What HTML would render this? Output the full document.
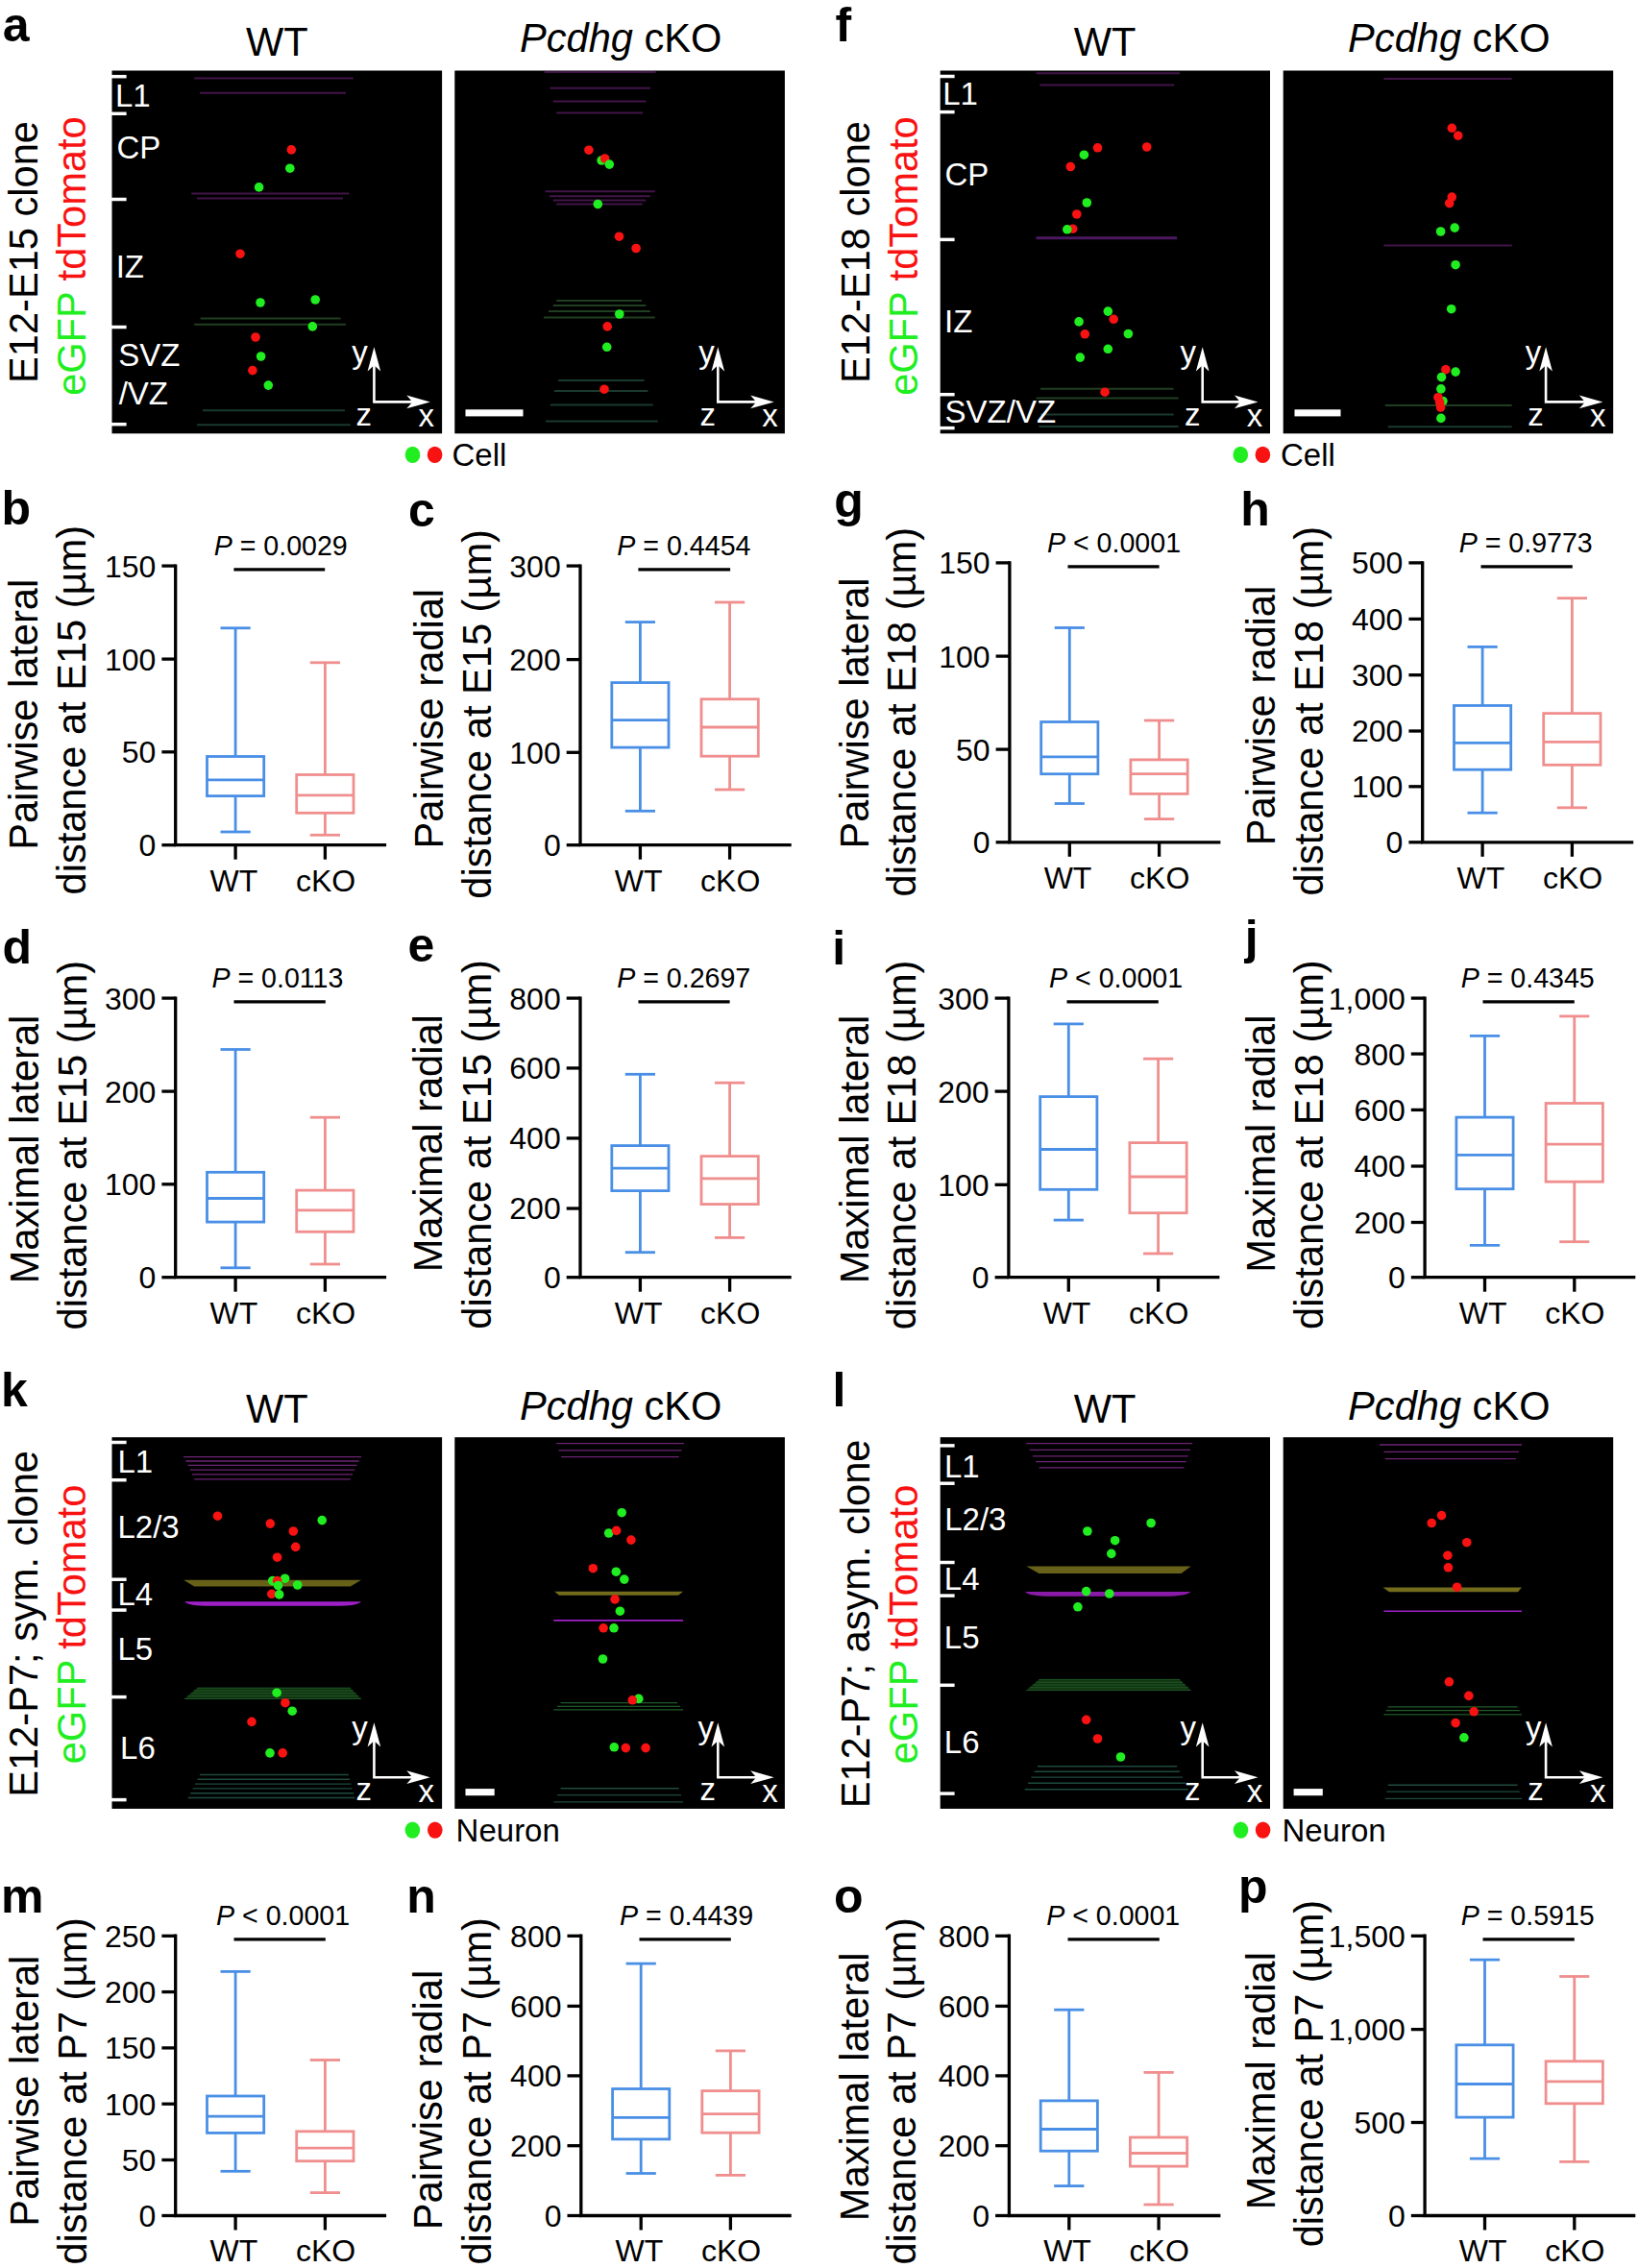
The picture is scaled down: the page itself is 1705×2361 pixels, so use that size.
<!DOCTYPE html>
<html><head><meta charset="utf-8"><title>Figure</title>
<style>
html,body{margin:0;padding:0;background:#fff}
svg{display:block}
text{font-family:"Liberation Sans",Arial,sans-serif}
</style></head><body>
<svg xmlns="http://www.w3.org/2000/svg" width="1705" height="2361" viewBox="0 0 1705 2361">
<rect width="1705" height="2361" fill="#fff"/>
<rect x="116.5" y="73.5" width="343.6" height="377.8" fill="#000"/>
<rect x="473.3" y="73.5" width="343.6" height="377.8" fill="#000"/>
<rect x="978.7" y="73.5" width="343.3" height="377.8" fill="#000"/>
<rect x="1335.7" y="73.5" width="343.5" height="377.8" fill="#000"/>
<text x="2.8" y="42.6" font-size="50" text-anchor="start" fill="#000" font-weight="bold">a</text>
<text x="869.5" y="43.4" font-size="50" text-anchor="start" fill="#000" font-weight="bold">f</text>
<text x="288.4" y="57.7" font-size="41.6" text-anchor="middle" fill="#000" >WT</text>
<text x="646.2" y="54.2" font-size="41.6" text-anchor="middle" fill="#000" ><tspan font-style="italic">Pcdhg</tspan> cKO</text>
<text x="1150.2" y="57.7" font-size="41.6" text-anchor="middle" fill="#000" >WT</text>
<text x="1508.3" y="54.2" font-size="41.6" text-anchor="middle" fill="#000" ><tspan font-style="italic">Pcdhg</tspan> cKO</text>
<text transform="translate(39.0,262.5) rotate(-90)" font-size="41.6" text-anchor="middle" fill="#000">E12-E15 clone</text>
<text transform="translate(89.2,266.6) rotate(-90)" font-size="41.6" text-anchor="middle" fill="#000"><tspan fill="#20ee20">eGFP</tspan> <tspan fill="#f81212">tdTomato</tspan></text>
<text transform="translate(905.1,262.5) rotate(-90)" font-size="41.6" text-anchor="middle" fill="#000">E12-E18 clone</text>
<text transform="translate(955.2,266.6) rotate(-90)" font-size="41.6" text-anchor="middle" fill="#000"><tspan fill="#20ee20">eGFP</tspan> <tspan fill="#f81212">tdTomato</tspan></text>
<line x1="202.2" y1="81.5" x2="367.8" y2="81.5" stroke="#421548" stroke-width="2" />
<line x1="208.0" y1="96.7" x2="360.0" y2="96.7" stroke="#421548" stroke-width="2" />
<line x1="199.3" y1="201.6" x2="363.4" y2="201.6" stroke="#421548" stroke-width="2" />
<line x1="205.0" y1="206.6" x2="357.0" y2="206.6" stroke="#421548" stroke-width="2" />
<line x1="208.6" y1="331.4" x2="354.6" y2="331.4" stroke="#203e20" stroke-width="2" />
<line x1="202.2" y1="337.8" x2="359.9" y2="337.8" stroke="#203e20" stroke-width="2" />
<line x1="211.0" y1="427.2" x2="359.0" y2="427.2" stroke="#1a392f" stroke-width="2" />
<line x1="205.1" y1="442.2" x2="364.8" y2="442.2" stroke="#1a392f" stroke-width="2" />
<line x1="116.0" y1="79.7" x2="131.6" y2="79.7" stroke="#fff" stroke-width="3.5" />
<line x1="116.0" y1="118.3" x2="131.6" y2="118.3" stroke="#fff" stroke-width="3.5" />
<line x1="116.0" y1="207.5" x2="131.6" y2="207.5" stroke="#fff" stroke-width="3.5" />
<line x1="116.0" y1="340.5" x2="131.6" y2="340.5" stroke="#fff" stroke-width="3.5" />
<line x1="116.0" y1="441.7" x2="131.6" y2="441.7" stroke="#fff" stroke-width="3.5" />
<text x="119.9" y="111.3" font-size="33" text-anchor="start" fill="#fff" >L1</text>
<text x="121.4" y="164.9" font-size="33" text-anchor="start" fill="#fff" >CP</text>
<text x="120.7" y="289.0" font-size="33" text-anchor="start" fill="#fff" >IZ</text>
<text x="123.3" y="381.2" font-size="33" text-anchor="start" fill="#fff" >SVZ</text>
<text x="123.7" y="420.9" font-size="33" text-anchor="start" fill="#fff" >/VZ</text>
<circle cx="303.3" cy="155.9" r="4.8" fill="#f81212"/>
<circle cx="301.8" cy="175.2" r="4.8" fill="#20ee20"/>
<circle cx="269.6" cy="194.9" r="4.8" fill="#20ee20"/>
<circle cx="250.0" cy="264.2" r="4.8" fill="#f81212"/>
<circle cx="271.0" cy="315.0" r="4.8" fill="#20ee20"/>
<circle cx="328.2" cy="312.0" r="4.8" fill="#20ee20"/>
<circle cx="325.3" cy="339.9" r="4.8" fill="#20ee20"/>
<circle cx="266.0" cy="351.0" r="4.8" fill="#f81212"/>
<circle cx="271.6" cy="371.0" r="4.8" fill="#20ee20"/>
<circle cx="262.9" cy="385.6" r="4.8" fill="#f81212"/>
<circle cx="279.3" cy="401.1" r="4.8" fill="#20ee20"/>
<path d="M389.4,377.2 L389.4,418.4 L431.8,418.4" fill="none" stroke="#fff" stroke-width="2.6" stroke-linejoin="miter"/>
<polygon points="389.4,361.2 382.6,386.5 389.4,380.2 396.2,386.5" fill="#fff" opacity="1"/>
<polygon points="447.8,418.4 423.3,411.5 429.3,418.4 423.3,425.3" fill="#fff" opacity="1"/>
<text x="366.3" y="378.0" font-size="33" text-anchor="start" fill="#fff" >y</text>
<text x="370.6" y="442.5" font-size="33" text-anchor="start" fill="#fff" >z</text>
<text x="435.4" y="444.0" font-size="33" text-anchor="start" fill="#fff" >x</text>
<line x1="566.6" y1="75.0" x2="682.6" y2="75.0" stroke="#421548" stroke-width="2" />
<line x1="572.5" y1="91.7" x2="676.8" y2="91.7" stroke="#421548" stroke-width="2" />
<line x1="575.7" y1="105.5" x2="672.4" y2="105.5" stroke="#421548" stroke-width="2" />
<line x1="579.2" y1="117.5" x2="669.2" y2="117.5" stroke="#421548" stroke-width="2" />
<line x1="567.5" y1="199.3" x2="681.8" y2="199.3" stroke="#421548" stroke-width="2" />
<line x1="571.9" y1="204.2" x2="676.8" y2="204.2" stroke="#421548" stroke-width="2" />
<line x1="575.7" y1="208.6" x2="672.4" y2="208.6" stroke="#421548" stroke-width="2" />
<line x1="579.2" y1="212.5" x2="668.6" y2="212.5" stroke="#421548" stroke-width="2" />
<line x1="579.2" y1="312.9" x2="668.0" y2="312.9" stroke="#203e20" stroke-width="2" />
<line x1="575.7" y1="317.9" x2="672.4" y2="317.9" stroke="#203e20" stroke-width="2" />
<line x1="571.0" y1="324.1" x2="676.8" y2="324.1" stroke="#203e20" stroke-width="2" />
<line x1="566.0" y1="330.5" x2="681.8" y2="330.5" stroke="#203e20" stroke-width="2" />
<line x1="581.2" y1="395.9" x2="670.6" y2="395.9" stroke="#1a392f" stroke-width="2" />
<line x1="576.9" y1="407.0" x2="674.4" y2="407.0" stroke="#1a392f" stroke-width="2" />
<line x1="572.8" y1="421.4" x2="679.7" y2="421.4" stroke="#1a392f" stroke-width="2" />
<line x1="568.1" y1="438.4" x2="684.7" y2="438.4" stroke="#1a392f" stroke-width="2" />
<circle cx="612.9" cy="156.2" r="4.8" fill="#f81212"/>
<circle cx="626.1" cy="167.0" r="4.8" fill="#20ee20"/>
<circle cx="629.6" cy="165.0" r="4.8" fill="#f81212"/>
<circle cx="634.3" cy="171.1" r="4.8" fill="#20ee20"/>
<circle cx="622.3" cy="212.5" r="4.8" fill="#20ee20"/>
<circle cx="644.5" cy="246.2" r="4.8" fill="#f81212"/>
<circle cx="662.1" cy="258.5" r="4.8" fill="#f81212"/>
<circle cx="644.8" cy="327.0" r="4.8" fill="#20ee20"/>
<circle cx="632.2" cy="339.9" r="4.8" fill="#f81212"/>
<circle cx="631.7" cy="361.3" r="4.8" fill="#20ee20"/>
<circle cx="629.0" cy="405.2" r="4.8" fill="#f81212"/>
<rect x="484.5" y="426.3" width="60.0" height="7.1" fill="#fff"/>
<path d="M747.3,377.2 L747.3,418.4 L789.7,418.4" fill="none" stroke="#fff" stroke-width="2.6" stroke-linejoin="miter"/>
<polygon points="747.3,361.2 740.5,386.5 747.3,380.2 754.1,386.5" fill="#fff" opacity="1"/>
<polygon points="805.7,418.4 781.2,411.5 787.2,418.4 781.2,425.3" fill="#fff" opacity="1"/>
<text x="727.2" y="378.0" font-size="33" text-anchor="start" fill="#fff" >y</text>
<text x="728.5" y="442.5" font-size="33" text-anchor="start" fill="#fff" >z</text>
<text x="793.3" y="444.0" font-size="33" text-anchor="start" fill="#fff" >x</text>
<ellipse cx="429.5" cy="473.4" rx="7.8" ry="8.7" fill="#20ee20"/>
<ellipse cx="452.6" cy="473.4" rx="7.8" ry="8.7" fill="#f81212"/>
<text x="470.5" y="485.0" font-size="33" text-anchor="start" fill="#000" >Cell</text>
<line x1="1078.6" y1="76.2" x2="1228.0" y2="76.2" stroke="#421548" stroke-width="2" />
<line x1="1082.4" y1="88.5" x2="1222.2" y2="88.5" stroke="#421548" stroke-width="2" />
<line x1="1078.6" y1="247.8" x2="1225.1" y2="247.8" stroke="#4c1862" stroke-width="3" />
<line x1="1083.0" y1="404.7" x2="1221.6" y2="404.7" stroke="#203e20" stroke-width="2" />
<line x1="1078.6" y1="414.6" x2="1226.6" y2="414.6" stroke="#203e20" stroke-width="2" />
<line x1="1083.0" y1="431.6" x2="1221.6" y2="431.6" stroke="#1a392f" stroke-width="2" />
<line x1="1081.5" y1="443.9" x2="1226.6" y2="443.9" stroke="#1a392f" stroke-width="2" />
<line x1="978.0" y1="79.5" x2="993.6" y2="79.5" stroke="#fff" stroke-width="3.5" />
<line x1="978.0" y1="116.6" x2="993.6" y2="116.6" stroke="#fff" stroke-width="3.5" />
<line x1="978.0" y1="249.4" x2="993.6" y2="249.4" stroke="#fff" stroke-width="3.5" />
<line x1="978.0" y1="410.7" x2="993.6" y2="410.7" stroke="#fff" stroke-width="3.5" />
<line x1="978.0" y1="445.6" x2="993.6" y2="445.6" stroke="#fff" stroke-width="3.5" />
<text x="981.2" y="109.0" font-size="33" text-anchor="start" fill="#fff" >L1</text>
<text x="983.5" y="193.4" font-size="33" text-anchor="start" fill="#fff" >CP</text>
<text x="983.0" y="345.8" font-size="33" text-anchor="start" fill="#fff" >IZ</text>
<text x="983.6" y="439.5" font-size="33" text-anchor="start" fill="#fff" >SVZ/VZ</text>
<circle cx="1142.5" cy="153.8" r="4.8" fill="#f81212"/>
<circle cx="1193.7" cy="153.0" r="4.8" fill="#f81212"/>
<circle cx="1128.4" cy="161.2" r="4.8" fill="#20ee20"/>
<circle cx="1114.3" cy="173.5" r="4.8" fill="#f81212"/>
<circle cx="1131.3" cy="211.0" r="4.8" fill="#20ee20"/>
<circle cx="1120.8" cy="223.0" r="4.8" fill="#f81212"/>
<circle cx="1116.7" cy="238.2" r="4.8" fill="#f81212"/>
<circle cx="1110.8" cy="238.8" r="4.8" fill="#20ee20"/>
<circle cx="1153.3" cy="324.1" r="4.8" fill="#20ee20"/>
<circle cx="1159.2" cy="332.3" r="4.8" fill="#f81212"/>
<circle cx="1123.1" cy="334.9" r="4.8" fill="#20ee20"/>
<circle cx="1129.3" cy="347.8" r="4.8" fill="#f81212"/>
<circle cx="1174.4" cy="347.5" r="4.8" fill="#20ee20"/>
<circle cx="1153.3" cy="363.3" r="4.8" fill="#20ee20"/>
<circle cx="1124.3" cy="372.1" r="4.8" fill="#20ee20"/>
<circle cx="1150.1" cy="408.2" r="4.8" fill="#f81212"/>
<path d="M1251.7,377.2 L1251.7,418.4 L1293.5,418.4" fill="none" stroke="#fff" stroke-width="2.6" stroke-linejoin="miter"/>
<polygon points="1251.7,361.2 1244.9,386.5 1251.7,380.2 1258.5,386.5" fill="#fff" opacity="1"/>
<polygon points="1309.5,418.4 1285.0,411.5 1291.0,418.4 1285.0,425.3" fill="#fff" opacity="1"/>
<text x="1228.6" y="378.0" font-size="33" text-anchor="start" fill="#fff" >y</text>
<text x="1232.9" y="442.5" font-size="33" text-anchor="start" fill="#fff" >z</text>
<text x="1297.7" y="444.0" font-size="33" text-anchor="start" fill="#fff" >x</text>
<line x1="1440.4" y1="82.0" x2="1573.7" y2="82.0" stroke="#421548" stroke-width="2" />
<line x1="1440.4" y1="255.5" x2="1573.7" y2="255.5" stroke="#421548" stroke-width="2" />
<line x1="1441.8" y1="421.9" x2="1573.7" y2="421.9" stroke="#203e20" stroke-width="2" />
<line x1="1444.8" y1="444.2" x2="1573.7" y2="444.2" stroke="#1a392f" stroke-width="2" />
<circle cx="1511.3" cy="133.3" r="4.8" fill="#f81212"/>
<circle cx="1517.7" cy="141.2" r="4.8" fill="#f81212"/>
<circle cx="1511.3" cy="205.1" r="4.8" fill="#f81212"/>
<circle cx="1508.7" cy="211.6" r="4.8" fill="#f81212"/>
<circle cx="1514.2" cy="237.1" r="4.8" fill="#20ee20"/>
<circle cx="1499.6" cy="241.0" r="4.8" fill="#20ee20"/>
<circle cx="1515.1" cy="275.7" r="4.8" fill="#20ee20"/>
<circle cx="1510.7" cy="321.7" r="4.8" fill="#20ee20"/>
<circle cx="1504.9" cy="384.7" r="4.8" fill="#f81212"/>
<circle cx="1515.1" cy="387.1" r="4.8" fill="#20ee20"/>
<circle cx="1500.5" cy="392.6" r="4.8" fill="#20ee20"/>
<circle cx="1499.9" cy="404.9" r="4.8" fill="#20ee20"/>
<circle cx="1501.9" cy="417.5" r="4.8" fill="#20ee20"/>
<circle cx="1496.9" cy="413.7" r="4.8" fill="#f81212"/>
<circle cx="1498.7" cy="419.0" r="4.8" fill="#f81212"/>
<circle cx="1499.6" cy="424.0" r="4.8" fill="#f81212"/>
<circle cx="1499.9" cy="435.4" r="4.8" fill="#20ee20"/>
<rect x="1347.5" y="426.3" width="48.0" height="7.1" fill="#fff"/>
<path d="M1609.1,377.2 L1609.1,418.4 L1652.4,418.4" fill="none" stroke="#fff" stroke-width="2.6" stroke-linejoin="miter"/>
<polygon points="1609.1,361.2 1602.3,386.5 1609.1,380.2 1615.9,386.5" fill="#fff" opacity="1"/>
<polygon points="1668.4,418.4 1643.9,411.5 1649.9,418.4 1643.9,425.3" fill="#fff" opacity="1"/>
<text x="1587.8" y="378.0" font-size="33" text-anchor="start" fill="#fff" >y</text>
<text x="1590.3" y="442.5" font-size="33" text-anchor="start" fill="#fff" >z</text>
<text x="1655.1" y="444.0" font-size="33" text-anchor="start" fill="#fff" >x</text>
<ellipse cx="1291.3" cy="473.4" rx="7.8" ry="8.7" fill="#20ee20"/>
<ellipse cx="1314.4" cy="473.4" rx="7.8" ry="8.7" fill="#f81212"/>
<text x="1333.0" y="485.0" font-size="33" text-anchor="start" fill="#000" >Cell</text>
<rect x="116.5" y="1496.2" width="343.6" height="386.7" fill="#000"/>
<rect x="473.3" y="1496.2" width="343.6" height="386.7" fill="#000"/>
<rect x="978.7" y="1496.2" width="343.3" height="386.7" fill="#000"/>
<rect x="1335.7" y="1496.2" width="343.5" height="386.7" fill="#000"/>
<text x="0.9" y="1463.9" font-size="50" text-anchor="start" fill="#000" font-weight="bold">k</text>
<text x="866.5" y="1463.9" font-size="50" text-anchor="start" fill="#000" font-weight="bold">l</text>
<text x="288.4" y="1481.2" font-size="41.6" text-anchor="middle" fill="#000" >WT</text>
<text x="646.2" y="1477.7" font-size="41.6" text-anchor="middle" fill="#000" ><tspan font-style="italic">Pcdhg</tspan> cKO</text>
<text x="1150.2" y="1481.2" font-size="41.6" text-anchor="middle" fill="#000" >WT</text>
<text x="1508.3" y="1477.7" font-size="41.6" text-anchor="middle" fill="#000" ><tspan font-style="italic">Pcdhg</tspan> cKO</text>
<text transform="translate(39.0,1690.4) rotate(-90)" font-size="41.6" text-anchor="middle" fill="#000">E12-P7; sym. clone</text>
<text transform="translate(89.2,1691.0) rotate(-90)" font-size="41.6" text-anchor="middle" fill="#000"><tspan fill="#20ee20">eGFP</tspan> <tspan fill="#f81212">tdTomato</tspan></text>
<text transform="translate(905.1,1690.4) rotate(-90)" font-size="41.6" text-anchor="middle" fill="#000">E12-P7; asym. clone</text>
<text transform="translate(955.2,1691.0) rotate(-90)" font-size="41.6" text-anchor="middle" fill="#000"><tspan fill="#20ee20">eGFP</tspan> <tspan fill="#f81212">tdTomato</tspan></text>
<line x1="191.1" y1="1516.6" x2="376.0" y2="1516.6" stroke="#6c2474" stroke-width="1.3" />
<line x1="193.3" y1="1521.0" x2="373.8" y2="1521.0" stroke="#6c2474" stroke-width="1.3" />
<line x1="195.5" y1="1525.4" x2="371.5" y2="1525.4" stroke="#6c2474" stroke-width="1.3" />
<line x1="197.8" y1="1530.1" x2="369.3" y2="1530.1" stroke="#6c2474" stroke-width="1.3" />
<line x1="200.0" y1="1534.8" x2="367.0" y2="1534.8" stroke="#6c2474" stroke-width="1.3" />
<line x1="202.2" y1="1539.8" x2="364.8" y2="1539.8" stroke="#6c2474" stroke-width="1.3" />
<polygon points="191.1,1644.7 376.0,1644.7 364.8,1651.4 202.2,1651.4" fill="#726c1c" opacity="0.9"/>
<path d="M192,1667.2 L376,1667.2 Q372,1671.8 350,1671.8 L218,1671.8 Q196,1671.8 192,1667.2 Z" fill="#a020c8"/>
<polygon points="205.1,1757.2 364.8,1757.2 376.0,1768.4 192.0,1768.4" fill="#11320f" opacity="1"/>
<line x1="205.1" y1="1757.2" x2="364.8" y2="1757.2" stroke="#1f5a28" stroke-width="1.0" />
<line x1="201.8" y1="1760.0" x2="367.6" y2="1760.0" stroke="#1f5a28" stroke-width="1.0" />
<line x1="198.6" y1="1762.8" x2="370.4" y2="1762.8" stroke="#1f5a28" stroke-width="1.0" />
<line x1="195.3" y1="1765.6" x2="373.2" y2="1765.6" stroke="#1f5a28" stroke-width="1.0" />
<line x1="192.0" y1="1768.4" x2="376.0" y2="1768.4" stroke="#1f5a28" stroke-width="1.0" />
<line x1="208.0" y1="1847.5" x2="362.8" y2="1847.5" stroke="#1f4a3e" stroke-width="1.4" />
<line x1="205.6" y1="1852.3" x2="364.1" y2="1852.3" stroke="#1f4a3e" stroke-width="1.4" />
<line x1="203.1" y1="1857.1" x2="365.5" y2="1857.1" stroke="#1f4a3e" stroke-width="1.4" />
<line x1="200.7" y1="1861.9" x2="366.8" y2="1861.9" stroke="#1f4a3e" stroke-width="1.4" />
<line x1="198.2" y1="1866.7" x2="368.2" y2="1866.7" stroke="#1f4a3e" stroke-width="1.4" />
<line x1="195.8" y1="1871.5" x2="369.5" y2="1871.5" stroke="#1f4a3e" stroke-width="1.4" />
<line x1="116.0" y1="1501.5" x2="131.6" y2="1501.5" stroke="#fff" stroke-width="3.5" />
<line x1="116.0" y1="1540.7" x2="131.6" y2="1540.7" stroke="#fff" stroke-width="3.5" />
<line x1="116.0" y1="1644.2" x2="131.6" y2="1644.2" stroke="#fff" stroke-width="3.5" />
<line x1="116.0" y1="1676.1" x2="131.6" y2="1676.1" stroke="#fff" stroke-width="3.5" />
<line x1="116.0" y1="1766.6" x2="131.6" y2="1766.6" stroke="#fff" stroke-width="3.5" />
<line x1="116.0" y1="1873.6" x2="131.6" y2="1873.6" stroke="#fff" stroke-width="3.5" />
<text x="122.5" y="1532.5" font-size="33" text-anchor="start" fill="#fff" >L1</text>
<text x="122.5" y="1600.7" font-size="33" text-anchor="start" fill="#fff" >L2/3</text>
<text x="122.5" y="1671.1" font-size="33" text-anchor="start" fill="#fff" >L4</text>
<text x="122.5" y="1728.2" font-size="33" text-anchor="start" fill="#fff" >L5</text>
<text x="125.1" y="1830.9" font-size="33" text-anchor="start" fill="#fff" >L6</text>
<circle cx="226.5" cy="1578.2" r="4.8" fill="#f81212"/>
<circle cx="281.3" cy="1586.1" r="4.8" fill="#f81212"/>
<circle cx="335.2" cy="1582.6" r="4.8" fill="#20ee20"/>
<circle cx="305.3" cy="1594.0" r="4.8" fill="#f81212"/>
<circle cx="307.7" cy="1610.4" r="4.8" fill="#f81212"/>
<circle cx="288.6" cy="1621.2" r="4.8" fill="#f81212"/>
<circle cx="296.6" cy="1643.2" r="4.8" fill="#20ee20"/>
<circle cx="283.7" cy="1645.6" r="4.8" fill="#20ee20"/>
<circle cx="288.6" cy="1645.6" r="4.8" fill="#f81212"/>
<circle cx="289.5" cy="1650.5" r="4.8" fill="#20ee20"/>
<circle cx="309.7" cy="1650.0" r="4.8" fill="#20ee20"/>
<circle cx="282.8" cy="1659.3" r="4.8" fill="#f81212"/>
<circle cx="290.7" cy="1659.9" r="4.8" fill="#20ee20"/>
<circle cx="288.1" cy="1762.2" r="4.8" fill="#20ee20"/>
<circle cx="296.9" cy="1772.7" r="4.8" fill="#f81212"/>
<circle cx="304.2" cy="1781.2" r="4.8" fill="#20ee20"/>
<circle cx="262.0" cy="1792.4" r="4.8" fill="#f81212"/>
<circle cx="281.0" cy="1824.9" r="4.8" fill="#20ee20"/>
<circle cx="294.2" cy="1824.9" r="4.8" fill="#f81212"/>
<path d="M389.4,1809.2 L389.4,1850.2 L431.8,1850.2" fill="none" stroke="#fff" stroke-width="2.6" stroke-linejoin="miter"/>
<polygon points="389.4,1793.2 382.6,1818.5 389.4,1812.2 396.2,1818.5" fill="#fff" opacity="1"/>
<polygon points="447.8,1850.2 423.3,1843.3 429.3,1850.2 423.3,1857.1" fill="#fff" opacity="1"/>
<text x="366.3" y="1810.1" font-size="33" text-anchor="start" fill="#fff" >y</text>
<text x="370.6" y="1874.3" font-size="33" text-anchor="start" fill="#fff" >z</text>
<text x="435.4" y="1875.8" font-size="33" text-anchor="start" fill="#fff" >x</text>
<line x1="579.2" y1="1502.6" x2="711.9" y2="1502.6" stroke="#6c2474" stroke-width="1.3" />
<line x1="581.5" y1="1509.9" x2="709.6" y2="1509.9" stroke="#6c2474" stroke-width="1.3" />
<line x1="584.2" y1="1516.6" x2="706.7" y2="1516.6" stroke="#6c2474" stroke-width="1.3" />
<polygon points="577.1,1656.7 711.1,1656.7 706.0,1660.8 582.0,1660.8" fill="#726c1c" opacity="1"/>
<line x1="576.3" y1="1686.9" x2="711.1" y2="1686.9" stroke="#a020c8" stroke-width="1.6" />
<line x1="583.6" y1="1772.7" x2="705.2" y2="1772.7" stroke="#1f5a28" stroke-width="1.3" />
<line x1="580.0" y1="1776.3" x2="708.0" y2="1776.3" stroke="#1f5a28" stroke-width="1.3" />
<line x1="576.3" y1="1779.8" x2="711.1" y2="1779.8" stroke="#1f5a28" stroke-width="1.3" />
<line x1="583.6" y1="1861.8" x2="706.7" y2="1861.8" stroke="#1f4a3e" stroke-width="1.4" />
<line x1="580.0" y1="1868.6" x2="709.0" y2="1868.6" stroke="#1f4a3e" stroke-width="1.4" />
<line x1="576.3" y1="1875.9" x2="711.1" y2="1875.9" stroke="#1f4a3e" stroke-width="1.4" />
<circle cx="647.2" cy="1574.7" r="4.8" fill="#20ee20"/>
<circle cx="633.7" cy="1596.0" r="4.8" fill="#20ee20"/>
<circle cx="641.6" cy="1593.4" r="4.8" fill="#f81212"/>
<circle cx="656.9" cy="1603.1" r="4.8" fill="#f81212"/>
<circle cx="617.3" cy="1632.7" r="4.8" fill="#f81212"/>
<circle cx="641.3" cy="1636.2" r="4.8" fill="#20ee20"/>
<circle cx="649.8" cy="1644.1" r="4.8" fill="#20ee20"/>
<circle cx="640.1" cy="1664.9" r="4.8" fill="#f81212"/>
<circle cx="645.4" cy="1677.2" r="4.8" fill="#20ee20"/>
<circle cx="628.1" cy="1694.8" r="4.8" fill="#f81212"/>
<circle cx="639.0" cy="1694.8" r="4.8" fill="#20ee20"/>
<circle cx="627.5" cy="1727.0" r="4.8" fill="#20ee20"/>
<circle cx="664.8" cy="1768.4" r="4.8" fill="#20ee20"/>
<circle cx="658.3" cy="1769.8" r="4.8" fill="#f81212"/>
<circle cx="639.3" cy="1818.8" r="4.8" fill="#20ee20"/>
<circle cx="651.3" cy="1819.6" r="4.8" fill="#f81212"/>
<circle cx="672.1" cy="1819.6" r="4.8" fill="#f81212"/>
<rect x="484.5" y="1862.1" width="30.2" height="7.1" fill="#fff"/>
<path d="M747.3,1809.2 L747.3,1850.2 L789.7,1850.2" fill="none" stroke="#fff" stroke-width="2.6" stroke-linejoin="miter"/>
<polygon points="747.3,1793.2 740.5,1818.5 747.3,1812.2 754.1,1818.5" fill="#fff" opacity="1"/>
<polygon points="805.7,1850.2 781.2,1843.3 787.2,1850.2 781.2,1857.1" fill="#fff" opacity="1"/>
<text x="726.4" y="1810.1" font-size="33" text-anchor="start" fill="#fff" >y</text>
<text x="728.5" y="1874.3" font-size="33" text-anchor="start" fill="#fff" >z</text>
<text x="793.3" y="1875.8" font-size="33" text-anchor="start" fill="#fff" >x</text>
<ellipse cx="429.4" cy="1905.1" rx="7.8" ry="8.7" fill="#20ee20"/>
<ellipse cx="452.8" cy="1905.1" rx="7.8" ry="8.7" fill="#f81212"/>
<text x="474.6" y="1917.1" font-size="33" text-anchor="start" fill="#000" >Neuron</text>
<line x1="1068.3" y1="1502.6" x2="1241.2" y2="1502.6" stroke="#6c2474" stroke-width="1.3" />
<line x1="1071.6" y1="1509.3" x2="1239.0" y2="1509.3" stroke="#6c2474" stroke-width="1.3" />
<line x1="1074.9" y1="1515.8" x2="1236.8" y2="1515.8" stroke="#6c2474" stroke-width="1.3" />
<line x1="1078.2" y1="1521.6" x2="1234.6" y2="1521.6" stroke="#6c2474" stroke-width="1.3" />
<line x1="1081.5" y1="1527.8" x2="1232.4" y2="1527.8" stroke="#6c2474" stroke-width="1.3" />
<polygon points="1068.3,1630.6 1239.7,1630.6 1229.5,1638.0 1081.5,1638.0" fill="#726c1c" opacity="0.9"/>
<path d="M1066.8,1657 L1239.7,1657 Q1235,1661.8 1212,1661.8 L1094,1661.8 Q1071,1661.8 1066.8,1657 Z" fill="#8a1aa8"/>
<polygon points="1081.5,1748.4 1228.0,1748.4 1239.7,1759.6 1068.3,1759.6" fill="#11320f" opacity="1"/>
<line x1="1081.5" y1="1748.4" x2="1228.0" y2="1748.4" stroke="#1f5a28" stroke-width="1.0" />
<line x1="1078.2" y1="1751.2" x2="1230.9" y2="1751.2" stroke="#1f5a28" stroke-width="1.0" />
<line x1="1074.9" y1="1754.0" x2="1233.8" y2="1754.0" stroke="#1f5a28" stroke-width="1.0" />
<line x1="1071.6" y1="1756.8" x2="1236.8" y2="1756.8" stroke="#1f5a28" stroke-width="1.0" />
<line x1="1068.3" y1="1759.6" x2="1239.7" y2="1759.6" stroke="#1f5a28" stroke-width="1.0" />
<line x1="1080.0" y1="1838.7" x2="1225.1" y2="1838.7" stroke="#1f4a3e" stroke-width="1.4" />
<line x1="1076.7" y1="1844.2" x2="1228.0" y2="1844.2" stroke="#1f4a3e" stroke-width="1.4" />
<line x1="1073.4" y1="1850.1" x2="1230.9" y2="1850.1" stroke="#1f4a3e" stroke-width="1.4" />
<line x1="1070.1" y1="1856.3" x2="1233.9" y2="1856.3" stroke="#1f4a3e" stroke-width="1.4" />
<line x1="1066.8" y1="1862.7" x2="1236.8" y2="1862.7" stroke="#1f4a3e" stroke-width="1.4" />
<line x1="978.0" y1="1504.9" x2="993.6" y2="1504.9" stroke="#fff" stroke-width="3.5" />
<line x1="978.0" y1="1544.2" x2="993.6" y2="1544.2" stroke="#fff" stroke-width="3.5" />
<line x1="978.0" y1="1626.5" x2="993.6" y2="1626.5" stroke="#fff" stroke-width="3.5" />
<line x1="978.0" y1="1661.1" x2="993.6" y2="1661.1" stroke="#fff" stroke-width="3.5" />
<line x1="978.0" y1="1754.3" x2="993.6" y2="1754.3" stroke="#fff" stroke-width="3.5" />
<line x1="978.0" y1="1867.1" x2="993.6" y2="1867.1" stroke="#fff" stroke-width="3.5" />
<text x="982.9" y="1537.6" font-size="33" text-anchor="start" fill="#fff" >L1</text>
<text x="983.2" y="1593.0" font-size="33" text-anchor="start" fill="#fff" >L2/3</text>
<text x="982.8" y="1655.3" font-size="33" text-anchor="start" fill="#fff" >L4</text>
<text x="982.8" y="1715.6" font-size="33" text-anchor="start" fill="#fff" >L5</text>
<text x="982.8" y="1824.6" font-size="33" text-anchor="start" fill="#fff" >L6</text>
<circle cx="1198.1" cy="1585.5" r="4.8" fill="#20ee20"/>
<circle cx="1131.9" cy="1594.0" r="4.8" fill="#20ee20"/>
<circle cx="1160.6" cy="1603.7" r="4.8" fill="#20ee20"/>
<circle cx="1156.8" cy="1617.4" r="4.8" fill="#20ee20"/>
<circle cx="1130.7" cy="1656.6" r="4.8" fill="#20ee20"/>
<circle cx="1154.8" cy="1659.0" r="4.8" fill="#20ee20"/>
<circle cx="1121.9" cy="1672.8" r="4.8" fill="#20ee20"/>
<circle cx="1130.7" cy="1790.3" r="4.8" fill="#f81212"/>
<circle cx="1142.5" cy="1810.0" r="4.8" fill="#f81212"/>
<circle cx="1166.5" cy="1829.0" r="4.8" fill="#20ee20"/>
<path d="M1251.7,1809.2 L1251.7,1850.2 L1293.5,1850.2" fill="none" stroke="#fff" stroke-width="2.6" stroke-linejoin="miter"/>
<polygon points="1251.7,1793.2 1244.9,1818.5 1251.7,1812.2 1258.5,1818.5" fill="#fff" opacity="1"/>
<polygon points="1309.5,1850.2 1285.0,1843.3 1291.0,1850.2 1285.0,1857.1" fill="#fff" opacity="1"/>
<text x="1228.6" y="1810.1" font-size="33" text-anchor="start" fill="#fff" >y</text>
<text x="1232.9" y="1874.3" font-size="33" text-anchor="start" fill="#fff" >z</text>
<text x="1297.7" y="1875.8" font-size="33" text-anchor="start" fill="#fff" >x</text>
<line x1="1436.0" y1="1504.0" x2="1584.0" y2="1504.0" stroke="#6c2474" stroke-width="1.3" />
<line x1="1440.4" y1="1511.4" x2="1581.0" y2="1511.4" stroke="#6c2474" stroke-width="1.3" />
<line x1="1441.8" y1="1518.7" x2="1578.1" y2="1518.7" stroke="#6c2474" stroke-width="1.3" />
<polygon points="1439.5,1652.6 1584.0,1652.6 1580.0,1657.2 1446.0,1657.2" fill="#726c1c" opacity="1"/>
<line x1="1440.4" y1="1677.2" x2="1584.0" y2="1677.2" stroke="#a020c8" stroke-width="1.6" />
<line x1="1444.8" y1="1776.9" x2="1579.6" y2="1776.9" stroke="#1f5a28" stroke-width="1.3" />
<line x1="1442.6" y1="1780.7" x2="1581.8" y2="1780.7" stroke="#1f5a28" stroke-width="1.3" />
<line x1="1440.4" y1="1784.8" x2="1584.0" y2="1784.8" stroke="#1f5a28" stroke-width="1.3" />
<line x1="1444.8" y1="1858.3" x2="1579.6" y2="1858.3" stroke="#1f4a3e" stroke-width="1.4" />
<line x1="1443.3" y1="1865.1" x2="1581.8" y2="1865.1" stroke="#1f4a3e" stroke-width="1.4" />
<line x1="1441.8" y1="1872.4" x2="1584.0" y2="1872.4" stroke="#1f4a3e" stroke-width="1.4" />
<circle cx="1500.5" cy="1577.6" r="4.8" fill="#f81212"/>
<circle cx="1490.2" cy="1585.5" r="4.8" fill="#f81212"/>
<circle cx="1526.8" cy="1605.7" r="4.8" fill="#f81212"/>
<circle cx="1506.9" cy="1619.2" r="4.8" fill="#f81212"/>
<circle cx="1507.5" cy="1631.8" r="4.8" fill="#f81212"/>
<circle cx="1516.6" cy="1652.2" r="4.8" fill="#f81212"/>
<circle cx="1508.4" cy="1750.8" r="4.8" fill="#f81212"/>
<circle cx="1528.9" cy="1765.4" r="4.8" fill="#f81212"/>
<circle cx="1534.2" cy="1781.8" r="4.8" fill="#f81212"/>
<circle cx="1515.1" cy="1793.6" r="4.8" fill="#f81212"/>
<circle cx="1523.9" cy="1808.8" r="4.8" fill="#20ee20"/>
<rect x="1346.6" y="1862.1" width="30.2" height="7.1" fill="#fff"/>
<path d="M1609.1,1809.2 L1609.1,1850.2 L1652.4,1850.2" fill="none" stroke="#fff" stroke-width="2.6" stroke-linejoin="miter"/>
<polygon points="1609.1,1793.2 1602.3,1818.5 1609.1,1812.2 1615.9,1818.5" fill="#fff" opacity="1"/>
<polygon points="1668.4,1850.2 1643.9,1843.3 1649.9,1850.2 1643.9,1857.1" fill="#fff" opacity="1"/>
<text x="1588.0" y="1810.1" font-size="33" text-anchor="start" fill="#fff" >y</text>
<text x="1590.3" y="1874.3" font-size="33" text-anchor="start" fill="#fff" >z</text>
<text x="1655.1" y="1875.8" font-size="33" text-anchor="start" fill="#fff" >x</text>
<ellipse cx="1291.5" cy="1905.1" rx="7.8" ry="8.7" fill="#20ee20"/>
<ellipse cx="1314.6" cy="1905.1" rx="7.8" ry="8.7" fill="#f81212"/>
<text x="1334.4" y="1917.1" font-size="33" text-anchor="start" fill="#000" >Neuron</text>
<text x="1.4" y="546.2" font-size="50" text-anchor="start" fill="#000" font-weight="bold">b</text>
<path d="M182.7,587.5 L182.7,879.7 L402.1,879.7" fill="none" stroke="#000" stroke-width="3.3" stroke-linejoin="miter"/>
<line x1="168.4" y1="589.1" x2="182.7" y2="589.1" stroke="#000" stroke-width="3.3" />
<text x="162.4" y="600.5" font-size="32" text-anchor="end" fill="#000" >150</text>
<line x1="168.4" y1="686.1" x2="182.7" y2="686.1" stroke="#000" stroke-width="3.3" />
<text x="162.4" y="697.5" font-size="32" text-anchor="end" fill="#000" >100</text>
<line x1="168.4" y1="782.8" x2="182.7" y2="782.8" stroke="#000" stroke-width="3.3" />
<text x="162.4" y="794.2" font-size="32" text-anchor="end" fill="#000" >50</text>
<line x1="168.4" y1="879.7" x2="182.7" y2="879.7" stroke="#000" stroke-width="3.3" />
<text x="162.4" y="891.1" font-size="32" text-anchor="end" fill="#000" >0</text>
<line x1="245.1" y1="879.7" x2="245.1" y2="894.7" stroke="#000" stroke-width="3.3" />
<text x="243.3" y="928.1" font-size="32" text-anchor="middle" fill="#000" >WT</text>
<rect x="215.5" y="787.5" width="59.2" height="41.1" fill="none" stroke="#4a8fe6" stroke-width="2.8"/>
<line x1="214.9" y1="811.8" x2="275.3" y2="811.8" stroke="#4a8fe6" stroke-width="2.8" />
<line x1="245.1" y1="653.8" x2="245.1" y2="787.1" stroke="#4a8fe6" stroke-width="2.8" />
<line x1="245.1" y1="829.0" x2="245.1" y2="866.0" stroke="#4a8fe6" stroke-width="2.8" />
<line x1="229.5" y1="653.8" x2="260.7" y2="653.8" stroke="#4a8fe6" stroke-width="2.8" />
<line x1="229.5" y1="866.0" x2="260.7" y2="866.0" stroke="#4a8fe6" stroke-width="2.8" />
<line x1="338.4" y1="879.7" x2="338.4" y2="894.7" stroke="#000" stroke-width="3.3" />
<text x="339.0" y="928.1" font-size="32" text-anchor="middle" fill="#000" >cKO</text>
<rect x="308.7" y="806.5" width="59.3" height="39.8" fill="none" stroke="#f08e8e" stroke-width="2.8"/>
<line x1="308.1" y1="827.9" x2="368.6" y2="827.9" stroke="#f08e8e" stroke-width="2.8" />
<line x1="338.4" y1="689.8" x2="338.4" y2="806.1" stroke="#f08e8e" stroke-width="2.8" />
<line x1="338.4" y1="846.7" x2="338.4" y2="869.3" stroke="#f08e8e" stroke-width="2.8" />
<line x1="322.8" y1="689.8" x2="354.0" y2="689.8" stroke="#f08e8e" stroke-width="2.8" />
<line x1="322.8" y1="869.3" x2="354.0" y2="869.3" stroke="#f08e8e" stroke-width="2.8" />
<line x1="243.4" y1="592.8" x2="338.2" y2="592.8" stroke="#000" stroke-width="3.3" />
<text x="292.2" y="577.8" font-size="28.6" text-anchor="middle" fill="#000" ><tspan font-style="italic">P</tspan> = 0.0029</text>
<text transform="translate(39.1,743.8) rotate(-90)" font-size="41.6" text-anchor="middle" letter-spacing="0.000" fill="#000">Pairwise lateral</text>
<text transform="translate(89.4,739.2) rotate(-90)" font-size="41.6" text-anchor="middle" letter-spacing="0.000" fill="#000">distance at E15 (µm)</text>
<text x="424.9" y="547.5" font-size="50" text-anchor="start" fill="#000" font-weight="bold">c</text>
<path d="M604.0,587.5 L604.0,879.7 L823.7,879.7" fill="none" stroke="#000" stroke-width="3.3" stroke-linejoin="miter"/>
<line x1="589.7" y1="589.1" x2="604.0" y2="589.1" stroke="#000" stroke-width="3.3" />
<text x="583.7" y="600.5" font-size="32" text-anchor="end" fill="#000" >300</text>
<line x1="589.7" y1="686.6" x2="604.0" y2="686.6" stroke="#000" stroke-width="3.3" />
<text x="583.7" y="698.0" font-size="32" text-anchor="end" fill="#000" >200</text>
<line x1="589.7" y1="783.3" x2="604.0" y2="783.3" stroke="#000" stroke-width="3.3" />
<text x="583.7" y="794.7" font-size="32" text-anchor="end" fill="#000" >100</text>
<line x1="589.7" y1="879.7" x2="604.0" y2="879.7" stroke="#000" stroke-width="3.3" />
<text x="583.7" y="891.1" font-size="32" text-anchor="end" fill="#000" >0</text>
<line x1="666.4" y1="879.7" x2="666.4" y2="894.7" stroke="#000" stroke-width="3.3" />
<text x="664.6" y="928.1" font-size="32" text-anchor="middle" fill="#000" >WT</text>
<rect x="636.8" y="710.6" width="59.2" height="67.5" fill="none" stroke="#4a8fe6" stroke-width="2.8"/>
<line x1="636.2" y1="749.7" x2="696.6" y2="749.7" stroke="#4a8fe6" stroke-width="2.8" />
<line x1="666.4" y1="647.6" x2="666.4" y2="710.2" stroke="#4a8fe6" stroke-width="2.8" />
<line x1="666.4" y1="778.5" x2="666.4" y2="844.3" stroke="#4a8fe6" stroke-width="2.8" />
<line x1="650.8" y1="647.6" x2="682.0" y2="647.6" stroke="#4a8fe6" stroke-width="2.8" />
<line x1="650.8" y1="844.3" x2="682.0" y2="844.3" stroke="#4a8fe6" stroke-width="2.8" />
<line x1="759.6" y1="879.7" x2="759.6" y2="894.7" stroke="#000" stroke-width="3.3" />
<text x="760.2" y="928.1" font-size="32" text-anchor="middle" fill="#000" >cKO</text>
<rect x="730.0" y="727.8" width="59.3" height="59.4" fill="none" stroke="#f08e8e" stroke-width="2.8"/>
<line x1="729.4" y1="757.0" x2="789.9" y2="757.0" stroke="#f08e8e" stroke-width="2.8" />
<line x1="759.6" y1="627.0" x2="759.6" y2="727.4" stroke="#f08e8e" stroke-width="2.8" />
<line x1="759.6" y1="787.6" x2="759.6" y2="822.0" stroke="#f08e8e" stroke-width="2.8" />
<line x1="744.0" y1="627.0" x2="775.2" y2="627.0" stroke="#f08e8e" stroke-width="2.8" />
<line x1="744.0" y1="822.0" x2="775.2" y2="822.0" stroke="#f08e8e" stroke-width="2.8" />
<line x1="664.4" y1="592.8" x2="760.1" y2="592.8" stroke="#000" stroke-width="3.3" />
<text x="711.9" y="577.8" font-size="28.6" text-anchor="middle" fill="#000" ><tspan font-style="italic">P</tspan> = 0.4454</text>
<text transform="translate(460.5,748.2) rotate(-90)" font-size="41.6" text-anchor="middle" letter-spacing="0.000" fill="#000">Pairwise radial</text>
<text transform="translate(510.5,743.4) rotate(-90)" font-size="41.6" text-anchor="middle" letter-spacing="0.000" fill="#000">distance at E15 (µm)</text>
<text x="868.3" y="537.6" font-size="50" text-anchor="start" fill="#000" font-weight="bold">g</text>
<path d="M1050.9,584.2 L1050.9,876.8 L1270.4,876.8" fill="none" stroke="#000" stroke-width="3.3" stroke-linejoin="miter"/>
<line x1="1036.6" y1="585.9" x2="1050.9" y2="585.9" stroke="#000" stroke-width="3.3" />
<text x="1030.6" y="597.3" font-size="32" text-anchor="end" fill="#000" >150</text>
<line x1="1036.6" y1="683.1" x2="1050.9" y2="683.1" stroke="#000" stroke-width="3.3" />
<text x="1030.6" y="694.5" font-size="32" text-anchor="end" fill="#000" >100</text>
<line x1="1036.6" y1="780.1" x2="1050.9" y2="780.1" stroke="#000" stroke-width="3.3" />
<text x="1030.6" y="791.5" font-size="32" text-anchor="end" fill="#000" >50</text>
<line x1="1036.6" y1="876.8" x2="1050.9" y2="876.8" stroke="#000" stroke-width="3.3" />
<text x="1030.6" y="888.2" font-size="32" text-anchor="end" fill="#000" >0</text>
<line x1="1113.3" y1="876.8" x2="1113.3" y2="891.8" stroke="#000" stroke-width="3.3" />
<text x="1111.5" y="925.1" font-size="32" text-anchor="middle" fill="#000" >WT</text>
<rect x="1083.7" y="751.5" width="59.2" height="54.2" fill="none" stroke="#4a8fe6" stroke-width="2.8"/>
<line x1="1083.1" y1="787.9" x2="1143.5" y2="787.9" stroke="#4a8fe6" stroke-width="2.8" />
<line x1="1113.3" y1="653.5" x2="1113.3" y2="751.1" stroke="#4a8fe6" stroke-width="2.8" />
<line x1="1113.3" y1="806.1" x2="1113.3" y2="836.5" stroke="#4a8fe6" stroke-width="2.8" />
<line x1="1097.7" y1="653.5" x2="1128.9" y2="653.5" stroke="#4a8fe6" stroke-width="2.8" />
<line x1="1097.7" y1="836.5" x2="1128.9" y2="836.5" stroke="#4a8fe6" stroke-width="2.8" />
<line x1="1206.6" y1="876.8" x2="1206.6" y2="891.8" stroke="#000" stroke-width="3.3" />
<text x="1207.2" y="925.1" font-size="32" text-anchor="middle" fill="#000" >cKO</text>
<rect x="1176.9" y="790.9" width="59.3" height="35.5" fill="none" stroke="#f08e8e" stroke-width="2.8"/>
<line x1="1176.3" y1="805.6" x2="1236.8" y2="805.6" stroke="#f08e8e" stroke-width="2.8" />
<line x1="1206.6" y1="750.0" x2="1206.6" y2="790.5" stroke="#f08e8e" stroke-width="2.8" />
<line x1="1206.6" y1="826.8" x2="1206.6" y2="852.6" stroke="#f08e8e" stroke-width="2.8" />
<line x1="1191.0" y1="750.0" x2="1222.2" y2="750.0" stroke="#f08e8e" stroke-width="2.8" />
<line x1="1191.0" y1="852.6" x2="1222.2" y2="852.6" stroke="#f08e8e" stroke-width="2.8" />
<line x1="1111.5" y1="589.9" x2="1206.6" y2="589.9" stroke="#000" stroke-width="3.3" />
<text x="1159.5" y="574.5" font-size="28.6" text-anchor="middle" fill="#000" ><tspan font-style="italic">P</tspan> &lt; 0.0001</text>
<text transform="translate(903.7,742.5) rotate(-90)" font-size="41.6" text-anchor="middle" letter-spacing="0.000" fill="#000">Pairwise lateral</text>
<text transform="translate(952.9,741.2) rotate(-90)" font-size="41.6" text-anchor="middle" letter-spacing="0.000" fill="#000">distance at E18 (µm)</text>
<text x="1291.3" y="546.5" font-size="50" text-anchor="start" fill="#000" font-weight="bold">h</text>
<path d="M1480.7,584.2 L1480.7,876.8 L1700.2,876.8" fill="none" stroke="#000" stroke-width="3.3" stroke-linejoin="miter"/>
<line x1="1466.4" y1="585.9" x2="1480.7" y2="585.9" stroke="#000" stroke-width="3.3" />
<text x="1460.4" y="597.3" font-size="32" text-anchor="end" fill="#000" >500</text>
<line x1="1466.4" y1="644.4" x2="1480.7" y2="644.4" stroke="#000" stroke-width="3.3" />
<text x="1460.4" y="655.8" font-size="32" text-anchor="end" fill="#000" >400</text>
<line x1="1466.4" y1="702.7" x2="1480.7" y2="702.7" stroke="#000" stroke-width="3.3" />
<text x="1460.4" y="714.1" font-size="32" text-anchor="end" fill="#000" >300</text>
<line x1="1466.4" y1="761.0" x2="1480.7" y2="761.0" stroke="#000" stroke-width="3.3" />
<text x="1460.4" y="772.4" font-size="32" text-anchor="end" fill="#000" >200</text>
<line x1="1466.4" y1="818.8" x2="1480.7" y2="818.8" stroke="#000" stroke-width="3.3" />
<text x="1460.4" y="830.2" font-size="32" text-anchor="end" fill="#000" >100</text>
<line x1="1466.4" y1="876.8" x2="1480.7" y2="876.8" stroke="#000" stroke-width="3.3" />
<text x="1460.4" y="888.2" font-size="32" text-anchor="end" fill="#000" >0</text>
<line x1="1543.1" y1="876.8" x2="1543.1" y2="891.8" stroke="#000" stroke-width="3.3" />
<text x="1541.3" y="925.1" font-size="32" text-anchor="middle" fill="#000" >WT</text>
<rect x="1513.5" y="734.5" width="59.2" height="66.7" fill="none" stroke="#4a8fe6" stroke-width="2.8"/>
<line x1="1512.9" y1="773.4" x2="1573.3" y2="773.4" stroke="#4a8fe6" stroke-width="2.8" />
<line x1="1543.1" y1="673.4" x2="1543.1" y2="734.1" stroke="#4a8fe6" stroke-width="2.8" />
<line x1="1543.1" y1="801.6" x2="1543.1" y2="846.2" stroke="#4a8fe6" stroke-width="2.8" />
<line x1="1527.5" y1="673.4" x2="1558.7" y2="673.4" stroke="#4a8fe6" stroke-width="2.8" />
<line x1="1527.5" y1="846.2" x2="1558.7" y2="846.2" stroke="#4a8fe6" stroke-width="2.8" />
<line x1="1636.4" y1="876.8" x2="1636.4" y2="891.8" stroke="#000" stroke-width="3.3" />
<text x="1637.0" y="925.1" font-size="32" text-anchor="middle" fill="#000" >cKO</text>
<rect x="1606.7" y="742.6" width="59.3" height="53.7" fill="none" stroke="#f08e8e" stroke-width="2.8"/>
<line x1="1606.1" y1="772.3" x2="1666.6" y2="772.3" stroke="#f08e8e" stroke-width="2.8" />
<line x1="1636.4" y1="622.7" x2="1636.4" y2="742.2" stroke="#f08e8e" stroke-width="2.8" />
<line x1="1636.4" y1="796.7" x2="1636.4" y2="840.8" stroke="#f08e8e" stroke-width="2.8" />
<line x1="1620.8" y1="622.7" x2="1652.0" y2="622.7" stroke="#f08e8e" stroke-width="2.8" />
<line x1="1620.8" y1="840.8" x2="1652.0" y2="840.8" stroke="#f08e8e" stroke-width="2.8" />
<line x1="1541.5" y1="589.9" x2="1636.8" y2="589.9" stroke="#000" stroke-width="3.3" />
<text x="1588.2" y="574.5" font-size="28.6" text-anchor="middle" fill="#000" ><tspan font-style="italic">P</tspan> = 0.9773</text>
<text transform="translate(1326.6,745.0) rotate(-90)" font-size="41.6" text-anchor="middle" letter-spacing="0.000" fill="#000">Pairwise radial</text>
<text transform="translate(1376.5,740.2) rotate(-90)" font-size="41.6" text-anchor="middle" letter-spacing="0.000" fill="#000">distance at E18 (µm)</text>
<text x="2.6" y="1003.4" font-size="50" text-anchor="start" fill="#000" font-weight="bold">d</text>
<path d="M182.7,1037.4 L182.7,1329.7 L402.1,1329.7" fill="none" stroke="#000" stroke-width="3.3" stroke-linejoin="miter"/>
<line x1="168.4" y1="1039.1" x2="182.7" y2="1039.1" stroke="#000" stroke-width="3.3" />
<text x="162.4" y="1050.5" font-size="32" text-anchor="end" fill="#000" >300</text>
<line x1="168.4" y1="1136.1" x2="182.7" y2="1136.1" stroke="#000" stroke-width="3.3" />
<text x="162.4" y="1147.5" font-size="32" text-anchor="end" fill="#000" >200</text>
<line x1="168.4" y1="1232.8" x2="182.7" y2="1232.8" stroke="#000" stroke-width="3.3" />
<text x="162.4" y="1244.2" font-size="32" text-anchor="end" fill="#000" >100</text>
<line x1="168.4" y1="1329.7" x2="182.7" y2="1329.7" stroke="#000" stroke-width="3.3" />
<text x="162.4" y="1341.1" font-size="32" text-anchor="end" fill="#000" >0</text>
<line x1="245.1" y1="1329.7" x2="245.1" y2="1344.7" stroke="#000" stroke-width="3.3" />
<text x="243.3" y="1378.1" font-size="32" text-anchor="middle" fill="#000" >WT</text>
<rect x="215.5" y="1220.3" width="59.2" height="51.8" fill="none" stroke="#4a8fe6" stroke-width="2.8"/>
<line x1="214.9" y1="1247.5" x2="275.3" y2="1247.5" stroke="#4a8fe6" stroke-width="2.8" />
<line x1="245.1" y1="1092.5" x2="245.1" y2="1219.9" stroke="#4a8fe6" stroke-width="2.8" />
<line x1="245.1" y1="1272.5" x2="245.1" y2="1319.8" stroke="#4a8fe6" stroke-width="2.8" />
<line x1="229.5" y1="1092.5" x2="260.7" y2="1092.5" stroke="#4a8fe6" stroke-width="2.8" />
<line x1="229.5" y1="1319.8" x2="260.7" y2="1319.8" stroke="#4a8fe6" stroke-width="2.8" />
<line x1="338.4" y1="1329.7" x2="338.4" y2="1344.7" stroke="#000" stroke-width="3.3" />
<text x="339.0" y="1378.1" font-size="32" text-anchor="middle" fill="#000" >cKO</text>
<rect x="308.7" y="1239.1" width="59.3" height="43.2" fill="none" stroke="#f08e8e" stroke-width="2.8"/>
<line x1="308.1" y1="1259.9" x2="368.6" y2="1259.9" stroke="#f08e8e" stroke-width="2.8" />
<line x1="338.4" y1="1163.2" x2="338.4" y2="1238.7" stroke="#f08e8e" stroke-width="2.8" />
<line x1="338.4" y1="1282.7" x2="338.4" y2="1316.0" stroke="#f08e8e" stroke-width="2.8" />
<line x1="322.8" y1="1163.2" x2="354.0" y2="1163.2" stroke="#f08e8e" stroke-width="2.8" />
<line x1="322.8" y1="1316.0" x2="354.0" y2="1316.0" stroke="#f08e8e" stroke-width="2.8" />
<line x1="243.5" y1="1042.8" x2="338.8" y2="1042.8" stroke="#000" stroke-width="3.3" />
<text x="288.9" y="1027.8" font-size="28.6" text-anchor="middle" fill="#000" ><tspan font-style="italic">P</tspan> = 0.0113</text>
<text transform="translate(39.5,1196.5) rotate(-90)" font-size="41.6" text-anchor="middle" letter-spacing="0.000" fill="#000">Maximal lateral</text>
<text transform="translate(90.0,1192.2) rotate(-90)" font-size="41.6" text-anchor="middle" letter-spacing="0.000" fill="#000">distance at E15 (µm)</text>
<text x="424.6" y="1001.2" font-size="50" text-anchor="start" fill="#000" font-weight="bold">e</text>
<path d="M604.0,1037.4 L604.0,1329.7 L823.7,1329.7" fill="none" stroke="#000" stroke-width="3.3" stroke-linejoin="miter"/>
<line x1="589.7" y1="1039.1" x2="604.0" y2="1039.1" stroke="#000" stroke-width="3.3" />
<text x="583.7" y="1050.5" font-size="32" text-anchor="end" fill="#000" >800</text>
<line x1="589.7" y1="1111.9" x2="604.0" y2="1111.9" stroke="#000" stroke-width="3.3" />
<text x="583.7" y="1123.3" font-size="32" text-anchor="end" fill="#000" >600</text>
<line x1="589.7" y1="1184.9" x2="604.0" y2="1184.9" stroke="#000" stroke-width="3.3" />
<text x="583.7" y="1196.3" font-size="32" text-anchor="end" fill="#000" >400</text>
<line x1="589.7" y1="1258.0" x2="604.0" y2="1258.0" stroke="#000" stroke-width="3.3" />
<text x="583.7" y="1269.4" font-size="32" text-anchor="end" fill="#000" >200</text>
<line x1="589.7" y1="1329.7" x2="604.0" y2="1329.7" stroke="#000" stroke-width="3.3" />
<text x="583.7" y="1341.1" font-size="32" text-anchor="end" fill="#000" >0</text>
<line x1="666.4" y1="1329.7" x2="666.4" y2="1344.7" stroke="#000" stroke-width="3.3" />
<text x="664.6" y="1378.1" font-size="32" text-anchor="middle" fill="#000" >WT</text>
<rect x="636.8" y="1192.6" width="59.2" height="47.0" fill="none" stroke="#4a8fe6" stroke-width="2.8"/>
<line x1="636.2" y1="1216.1" x2="696.6" y2="1216.1" stroke="#4a8fe6" stroke-width="2.8" />
<line x1="666.4" y1="1118.3" x2="666.4" y2="1192.2" stroke="#4a8fe6" stroke-width="2.8" />
<line x1="666.4" y1="1240.0" x2="666.4" y2="1303.7" stroke="#4a8fe6" stroke-width="2.8" />
<line x1="650.8" y1="1118.3" x2="682.0" y2="1118.3" stroke="#4a8fe6" stroke-width="2.8" />
<line x1="650.8" y1="1303.7" x2="682.0" y2="1303.7" stroke="#4a8fe6" stroke-width="2.8" />
<line x1="759.6" y1="1329.7" x2="759.6" y2="1344.7" stroke="#000" stroke-width="3.3" />
<text x="760.2" y="1378.1" font-size="32" text-anchor="middle" fill="#000" >cKO</text>
<rect x="730.0" y="1203.6" width="59.3" height="50.0" fill="none" stroke="#f08e8e" stroke-width="2.8"/>
<line x1="729.4" y1="1226.9" x2="789.9" y2="1226.9" stroke="#f08e8e" stroke-width="2.8" />
<line x1="759.6" y1="1127.2" x2="759.6" y2="1203.2" stroke="#f08e8e" stroke-width="2.8" />
<line x1="759.6" y1="1254.0" x2="759.6" y2="1288.4" stroke="#f08e8e" stroke-width="2.8" />
<line x1="744.0" y1="1127.2" x2="775.2" y2="1127.2" stroke="#f08e8e" stroke-width="2.8" />
<line x1="744.0" y1="1288.4" x2="775.2" y2="1288.4" stroke="#f08e8e" stroke-width="2.8" />
<line x1="664.5" y1="1042.8" x2="759.6" y2="1042.8" stroke="#000" stroke-width="3.3" />
<text x="711.7" y="1027.8" font-size="28.6" text-anchor="middle" fill="#000" ><tspan font-style="italic">P</tspan> = 0.2697</text>
<text transform="translate(460.0,1190.3) rotate(-90)" font-size="41.6" text-anchor="middle" letter-spacing="0.000" fill="#000">Maximal radial</text>
<text transform="translate(510.5,1191.4) rotate(-90)" font-size="41.6" text-anchor="middle" letter-spacing="0.000" fill="#000">distance at E15 (µm)</text>
<text x="866.3" y="1003.5" font-size="50" text-anchor="start" fill="#000" font-weight="bold">i</text>
<path d="M1049.9,1037.4 L1049.9,1329.7 L1269.4,1329.7" fill="none" stroke="#000" stroke-width="3.3" stroke-linejoin="miter"/>
<line x1="1035.6" y1="1039.1" x2="1049.9" y2="1039.1" stroke="#000" stroke-width="3.3" />
<text x="1029.6" y="1050.5" font-size="32" text-anchor="end" fill="#000" >300</text>
<line x1="1035.6" y1="1136.1" x2="1049.9" y2="1136.1" stroke="#000" stroke-width="3.3" />
<text x="1029.6" y="1147.5" font-size="32" text-anchor="end" fill="#000" >200</text>
<line x1="1035.6" y1="1233.3" x2="1049.9" y2="1233.3" stroke="#000" stroke-width="3.3" />
<text x="1029.6" y="1244.7" font-size="32" text-anchor="end" fill="#000" >100</text>
<line x1="1035.6" y1="1329.7" x2="1049.9" y2="1329.7" stroke="#000" stroke-width="3.3" />
<text x="1029.6" y="1341.1" font-size="32" text-anchor="end" fill="#000" >0</text>
<line x1="1112.3" y1="1329.7" x2="1112.3" y2="1344.7" stroke="#000" stroke-width="3.3" />
<text x="1110.5" y="1378.1" font-size="32" text-anchor="middle" fill="#000" >WT</text>
<rect x="1082.7" y="1141.6" width="59.2" height="96.7" fill="none" stroke="#4a8fe6" stroke-width="2.8"/>
<line x1="1082.1" y1="1196.5" x2="1142.5" y2="1196.5" stroke="#4a8fe6" stroke-width="2.8" />
<line x1="1112.3" y1="1065.9" x2="1112.3" y2="1141.2" stroke="#4a8fe6" stroke-width="2.8" />
<line x1="1112.3" y1="1238.7" x2="1112.3" y2="1270.1" stroke="#4a8fe6" stroke-width="2.8" />
<line x1="1096.7" y1="1065.9" x2="1127.9" y2="1065.9" stroke="#4a8fe6" stroke-width="2.8" />
<line x1="1096.7" y1="1270.1" x2="1127.9" y2="1270.1" stroke="#4a8fe6" stroke-width="2.8" />
<line x1="1205.6" y1="1329.7" x2="1205.6" y2="1344.7" stroke="#000" stroke-width="3.3" />
<text x="1206.2" y="1378.1" font-size="32" text-anchor="middle" fill="#000" >cKO</text>
<rect x="1175.9" y="1189.6" width="59.3" height="73.1" fill="none" stroke="#f08e8e" stroke-width="2.8"/>
<line x1="1175.3" y1="1225.0" x2="1235.8" y2="1225.0" stroke="#f08e8e" stroke-width="2.8" />
<line x1="1205.6" y1="1102.2" x2="1205.6" y2="1189.2" stroke="#f08e8e" stroke-width="2.8" />
<line x1="1205.6" y1="1263.1" x2="1205.6" y2="1305.0" stroke="#f08e8e" stroke-width="2.8" />
<line x1="1190.0" y1="1102.2" x2="1221.2" y2="1102.2" stroke="#f08e8e" stroke-width="2.8" />
<line x1="1190.0" y1="1305.0" x2="1221.2" y2="1305.0" stroke="#f08e8e" stroke-width="2.8" />
<line x1="1110.5" y1="1042.8" x2="1205.8" y2="1042.8" stroke="#000" stroke-width="3.3" />
<text x="1161.6" y="1027.8" font-size="28.6" text-anchor="middle" fill="#000" ><tspan font-style="italic">P</tspan> &lt; 0.0001</text>
<text transform="translate(903.7,1196.5) rotate(-90)" font-size="41.6" text-anchor="middle" letter-spacing="0.000" fill="#000">Maximal lateral</text>
<text transform="translate(952.9,1191.9) rotate(-90)" font-size="41.6" text-anchor="middle" letter-spacing="0.000" fill="#000">distance at E18 (µm)</text>
<text x="1295.8" y="993.4" font-size="50" text-anchor="start" fill="#000" font-weight="bold">j</text>
<path d="M1483.1,1037.4 L1483.1,1329.7 L1702.3,1329.7" fill="none" stroke="#000" stroke-width="3.3" stroke-linejoin="miter"/>
<line x1="1468.8" y1="1039.1" x2="1483.1" y2="1039.1" stroke="#000" stroke-width="3.3" />
<text x="1462.8" y="1050.5" font-size="32" text-anchor="end" fill="#000" >1,000</text>
<line x1="1468.8" y1="1097.1" x2="1483.1" y2="1097.1" stroke="#000" stroke-width="3.3" />
<text x="1462.8" y="1108.5" font-size="32" text-anchor="end" fill="#000" >800</text>
<line x1="1468.8" y1="1155.4" x2="1483.1" y2="1155.4" stroke="#000" stroke-width="3.3" />
<text x="1462.8" y="1166.8" font-size="32" text-anchor="end" fill="#000" >600</text>
<line x1="1468.8" y1="1214.0" x2="1483.1" y2="1214.0" stroke="#000" stroke-width="3.3" />
<text x="1462.8" y="1225.4" font-size="32" text-anchor="end" fill="#000" >400</text>
<line x1="1468.8" y1="1272.5" x2="1483.1" y2="1272.5" stroke="#000" stroke-width="3.3" />
<text x="1462.8" y="1283.9" font-size="32" text-anchor="end" fill="#000" >200</text>
<line x1="1468.8" y1="1329.7" x2="1483.1" y2="1329.7" stroke="#000" stroke-width="3.3" />
<text x="1462.8" y="1341.1" font-size="32" text-anchor="end" fill="#000" >0</text>
<line x1="1545.5" y1="1329.7" x2="1545.5" y2="1344.7" stroke="#000" stroke-width="3.3" />
<text x="1543.7" y="1378.1" font-size="32" text-anchor="middle" fill="#000" >WT</text>
<rect x="1515.9" y="1163.1" width="59.2" height="74.6" fill="none" stroke="#4a8fe6" stroke-width="2.8"/>
<line x1="1515.3" y1="1202.4" x2="1575.7" y2="1202.4" stroke="#4a8fe6" stroke-width="2.8" />
<line x1="1545.5" y1="1078.3" x2="1545.5" y2="1162.7" stroke="#4a8fe6" stroke-width="2.8" />
<line x1="1545.5" y1="1238.1" x2="1545.5" y2="1296.4" stroke="#4a8fe6" stroke-width="2.8" />
<line x1="1529.9" y1="1078.3" x2="1561.1" y2="1078.3" stroke="#4a8fe6" stroke-width="2.8" />
<line x1="1529.9" y1="1296.4" x2="1561.1" y2="1296.4" stroke="#4a8fe6" stroke-width="2.8" />
<line x1="1638.8" y1="1329.7" x2="1638.8" y2="1344.7" stroke="#000" stroke-width="3.3" />
<text x="1639.3" y="1378.1" font-size="32" text-anchor="middle" fill="#000" >cKO</text>
<rect x="1609.1" y="1148.5" width="59.3" height="81.7" fill="none" stroke="#f08e8e" stroke-width="2.8"/>
<line x1="1608.5" y1="1191.1" x2="1669.0" y2="1191.1" stroke="#f08e8e" stroke-width="2.8" />
<line x1="1638.8" y1="1057.9" x2="1638.8" y2="1148.1" stroke="#f08e8e" stroke-width="2.8" />
<line x1="1638.8" y1="1230.6" x2="1638.8" y2="1292.7" stroke="#f08e8e" stroke-width="2.8" />
<line x1="1623.2" y1="1057.9" x2="1654.3" y2="1057.9" stroke="#f08e8e" stroke-width="2.8" />
<line x1="1623.2" y1="1292.7" x2="1654.3" y2="1292.7" stroke="#f08e8e" stroke-width="2.8" />
<line x1="1543.5" y1="1042.8" x2="1638.8" y2="1042.8" stroke="#000" stroke-width="3.3" />
<text x="1590.2" y="1027.8" font-size="28.6" text-anchor="middle" fill="#000" ><tspan font-style="italic">P</tspan> = 0.4345</text>
<text transform="translate(1326.9,1190.6) rotate(-90)" font-size="41.6" text-anchor="middle" letter-spacing="0.000" fill="#000">Maximal radial</text>
<text transform="translate(1376.5,1191.6) rotate(-90)" font-size="41.6" text-anchor="middle" letter-spacing="0.000" fill="#000">distance at E18 (µm)</text>
<text x="0.9" y="1990.7" font-size="50" text-anchor="start" fill="#000" font-weight="bold">m</text>
<path d="M182.7,2013.6 L182.7,2306.5 L402.1,2306.5" fill="none" stroke="#000" stroke-width="3.3" stroke-linejoin="miter"/>
<line x1="168.4" y1="2015.3" x2="182.7" y2="2015.3" stroke="#000" stroke-width="3.3" />
<text x="162.4" y="2026.7" font-size="32" text-anchor="end" fill="#000" >250</text>
<line x1="168.4" y1="2073.6" x2="182.7" y2="2073.6" stroke="#000" stroke-width="3.3" />
<text x="162.4" y="2085.0" font-size="32" text-anchor="end" fill="#000" >200</text>
<line x1="168.4" y1="2131.9" x2="182.7" y2="2131.9" stroke="#000" stroke-width="3.3" />
<text x="162.4" y="2143.3" font-size="32" text-anchor="end" fill="#000" >150</text>
<line x1="168.4" y1="2190.2" x2="182.7" y2="2190.2" stroke="#000" stroke-width="3.3" />
<text x="162.4" y="2201.6" font-size="32" text-anchor="end" fill="#000" >100</text>
<line x1="168.4" y1="2248.5" x2="182.7" y2="2248.5" stroke="#000" stroke-width="3.3" />
<text x="162.4" y="2259.9" font-size="32" text-anchor="end" fill="#000" >50</text>
<line x1="168.4" y1="2306.5" x2="182.7" y2="2306.5" stroke="#000" stroke-width="3.3" />
<text x="162.4" y="2317.9" font-size="32" text-anchor="end" fill="#000" >0</text>
<line x1="245.1" y1="2306.5" x2="245.1" y2="2321.5" stroke="#000" stroke-width="3.3" />
<text x="243.3" y="2354.4" font-size="32" text-anchor="middle" fill="#000" >WT</text>
<rect x="215.5" y="2182.0" width="59.2" height="38.4" fill="none" stroke="#4a8fe6" stroke-width="2.8"/>
<line x1="214.9" y1="2203.1" x2="275.3" y2="2203.1" stroke="#4a8fe6" stroke-width="2.8" />
<line x1="245.1" y1="2052.4" x2="245.1" y2="2181.6" stroke="#4a8fe6" stroke-width="2.8" />
<line x1="245.1" y1="2220.8" x2="245.1" y2="2260.3" stroke="#4a8fe6" stroke-width="2.8" />
<line x1="229.5" y1="2052.4" x2="260.7" y2="2052.4" stroke="#4a8fe6" stroke-width="2.8" />
<line x1="229.5" y1="2260.3" x2="260.7" y2="2260.3" stroke="#4a8fe6" stroke-width="2.8" />
<line x1="338.4" y1="2306.5" x2="338.4" y2="2321.5" stroke="#000" stroke-width="3.3" />
<text x="339.0" y="2354.4" font-size="32" text-anchor="middle" fill="#000" >cKO</text>
<rect x="308.7" y="2218.8" width="59.3" height="30.9" fill="none" stroke="#f08e8e" stroke-width="2.8"/>
<line x1="308.1" y1="2236.1" x2="368.6" y2="2236.1" stroke="#f08e8e" stroke-width="2.8" />
<line x1="338.4" y1="2144.5" x2="338.4" y2="2218.4" stroke="#f08e8e" stroke-width="2.8" />
<line x1="338.4" y1="2250.1" x2="338.4" y2="2282.6" stroke="#f08e8e" stroke-width="2.8" />
<line x1="322.8" y1="2144.5" x2="354.0" y2="2144.5" stroke="#f08e8e" stroke-width="2.8" />
<line x1="322.8" y1="2282.6" x2="354.0" y2="2282.6" stroke="#f08e8e" stroke-width="2.8" />
<line x1="243.5" y1="2018.8" x2="338.8" y2="2018.8" stroke="#000" stroke-width="3.3" />
<text x="294.6" y="2004.3" font-size="28.6" text-anchor="middle" fill="#000" ><tspan font-style="italic">P</tspan> &lt; 0.0001</text>
<text transform="translate(39.5,2176.7) rotate(-90)" font-size="41.6" text-anchor="middle" letter-spacing="0.000" fill="#000">Pairwise lateral</text>
<text transform="translate(90.0,2176.8) rotate(-90)" font-size="41.6" text-anchor="middle" letter-spacing="0.000" fill="#000">distance at P7 (µm)</text>
<text x="423.3" y="1991.1" font-size="50" text-anchor="start" fill="#000" font-weight="bold">n</text>
<path d="M604.8,2013.6 L604.8,2306.5 L823.7,2306.5" fill="none" stroke="#000" stroke-width="3.3" stroke-linejoin="miter"/>
<line x1="590.5" y1="2015.3" x2="604.8" y2="2015.3" stroke="#000" stroke-width="3.3" />
<text x="584.5" y="2026.7" font-size="32" text-anchor="end" fill="#000" >800</text>
<line x1="590.5" y1="2088.4" x2="604.8" y2="2088.4" stroke="#000" stroke-width="3.3" />
<text x="584.5" y="2099.8" font-size="32" text-anchor="end" fill="#000" >600</text>
<line x1="590.5" y1="2160.9" x2="604.8" y2="2160.9" stroke="#000" stroke-width="3.3" />
<text x="584.5" y="2172.3" font-size="32" text-anchor="end" fill="#000" >400</text>
<line x1="590.5" y1="2233.7" x2="604.8" y2="2233.7" stroke="#000" stroke-width="3.3" />
<text x="584.5" y="2245.1" font-size="32" text-anchor="end" fill="#000" >200</text>
<line x1="590.5" y1="2306.5" x2="604.8" y2="2306.5" stroke="#000" stroke-width="3.3" />
<text x="584.5" y="2317.9" font-size="32" text-anchor="end" fill="#000" >0</text>
<line x1="667.2" y1="2306.5" x2="667.2" y2="2321.5" stroke="#000" stroke-width="3.3" />
<text x="665.4" y="2354.4" font-size="32" text-anchor="middle" fill="#000" >WT</text>
<rect x="637.6" y="2174.5" width="59.2" height="52.4" fill="none" stroke="#4a8fe6" stroke-width="2.8"/>
<line x1="637.0" y1="2204.4" x2="697.4" y2="2204.4" stroke="#4a8fe6" stroke-width="2.8" />
<line x1="667.2" y1="2044.1" x2="667.2" y2="2174.1" stroke="#4a8fe6" stroke-width="2.8" />
<line x1="667.2" y1="2227.3" x2="667.2" y2="2262.5" stroke="#4a8fe6" stroke-width="2.8" />
<line x1="651.6" y1="2044.1" x2="682.8" y2="2044.1" stroke="#4a8fe6" stroke-width="2.8" />
<line x1="651.6" y1="2262.5" x2="682.8" y2="2262.5" stroke="#4a8fe6" stroke-width="2.8" />
<line x1="760.4" y1="2306.5" x2="760.4" y2="2321.5" stroke="#000" stroke-width="3.3" />
<text x="761.0" y="2354.4" font-size="32" text-anchor="middle" fill="#000" >cKO</text>
<rect x="730.8" y="2176.6" width="59.3" height="43.6" fill="none" stroke="#f08e8e" stroke-width="2.8"/>
<line x1="730.2" y1="2200.7" x2="790.7" y2="2200.7" stroke="#f08e8e" stroke-width="2.8" />
<line x1="760.4" y1="2134.9" x2="760.4" y2="2176.2" stroke="#f08e8e" stroke-width="2.8" />
<line x1="760.4" y1="2220.6" x2="760.4" y2="2264.4" stroke="#f08e8e" stroke-width="2.8" />
<line x1="744.8" y1="2134.9" x2="776.0" y2="2134.9" stroke="#f08e8e" stroke-width="2.8" />
<line x1="744.8" y1="2264.4" x2="776.0" y2="2264.4" stroke="#f08e8e" stroke-width="2.8" />
<line x1="665.5" y1="2018.8" x2="760.8" y2="2018.8" stroke="#000" stroke-width="3.3" />
<text x="714.6" y="2004.3" font-size="28.6" text-anchor="middle" fill="#000" ><tspan font-style="italic">P</tspan> = 0.4439</text>
<text transform="translate(460.0,2186.0) rotate(-90)" font-size="41.6" text-anchor="middle" letter-spacing="0.000" fill="#000">Pairwise radial</text>
<text transform="translate(510.5,2176.8) rotate(-90)" font-size="41.6" text-anchor="middle" letter-spacing="0.000" fill="#000">distance at P7 (µm)</text>
<text x="868.0" y="1990.7" font-size="50" text-anchor="start" fill="#000" font-weight="bold">o</text>
<path d="M1050.4,2013.6 L1050.4,2306.5 L1270.4,2306.5" fill="none" stroke="#000" stroke-width="3.3" stroke-linejoin="miter"/>
<line x1="1036.1" y1="2015.3" x2="1050.4" y2="2015.3" stroke="#000" stroke-width="3.3" />
<text x="1030.1" y="2026.7" font-size="32" text-anchor="end" fill="#000" >800</text>
<line x1="1036.1" y1="2088.4" x2="1050.4" y2="2088.4" stroke="#000" stroke-width="3.3" />
<text x="1030.1" y="2099.8" font-size="32" text-anchor="end" fill="#000" >600</text>
<line x1="1036.1" y1="2160.9" x2="1050.4" y2="2160.9" stroke="#000" stroke-width="3.3" />
<text x="1030.1" y="2172.3" font-size="32" text-anchor="end" fill="#000" >400</text>
<line x1="1036.1" y1="2233.7" x2="1050.4" y2="2233.7" stroke="#000" stroke-width="3.3" />
<text x="1030.1" y="2245.1" font-size="32" text-anchor="end" fill="#000" >200</text>
<line x1="1036.1" y1="2306.5" x2="1050.4" y2="2306.5" stroke="#000" stroke-width="3.3" />
<text x="1030.1" y="2317.9" font-size="32" text-anchor="end" fill="#000" >0</text>
<line x1="1112.8" y1="2306.5" x2="1112.8" y2="2321.5" stroke="#000" stroke-width="3.3" />
<text x="1111.0" y="2354.4" font-size="32" text-anchor="middle" fill="#000" >WT</text>
<rect x="1083.2" y="2186.9" width="59.2" height="52.3" fill="none" stroke="#4a8fe6" stroke-width="2.8"/>
<line x1="1082.6" y1="2216.5" x2="1143.0" y2="2216.5" stroke="#4a8fe6" stroke-width="2.8" />
<line x1="1112.8" y1="2092.2" x2="1112.8" y2="2186.5" stroke="#4a8fe6" stroke-width="2.8" />
<line x1="1112.8" y1="2239.6" x2="1112.8" y2="2275.6" stroke="#4a8fe6" stroke-width="2.8" />
<line x1="1097.2" y1="2092.2" x2="1128.4" y2="2092.2" stroke="#4a8fe6" stroke-width="2.8" />
<line x1="1097.2" y1="2275.6" x2="1128.4" y2="2275.6" stroke="#4a8fe6" stroke-width="2.8" />
<line x1="1206.1" y1="2306.5" x2="1206.1" y2="2321.5" stroke="#000" stroke-width="3.3" />
<text x="1206.7" y="2354.4" font-size="32" text-anchor="middle" fill="#000" >cKO</text>
<rect x="1176.4" y="2225.0" width="59.3" height="30.1" fill="none" stroke="#f08e8e" stroke-width="2.8"/>
<line x1="1175.8" y1="2241.5" x2="1236.3" y2="2241.5" stroke="#f08e8e" stroke-width="2.8" />
<line x1="1206.1" y1="2157.4" x2="1206.1" y2="2224.6" stroke="#f08e8e" stroke-width="2.8" />
<line x1="1206.1" y1="2255.5" x2="1206.1" y2="2295.0" stroke="#f08e8e" stroke-width="2.8" />
<line x1="1190.5" y1="2157.4" x2="1221.7" y2="2157.4" stroke="#f08e8e" stroke-width="2.8" />
<line x1="1190.5" y1="2295.0" x2="1221.7" y2="2295.0" stroke="#f08e8e" stroke-width="2.8" />
<line x1="1111.5" y1="2018.8" x2="1206.8" y2="2018.8" stroke="#000" stroke-width="3.3" />
<text x="1158.7" y="2004.3" font-size="28.6" text-anchor="middle" fill="#000" ><tspan font-style="italic">P</tspan> &lt; 0.0001</text>
<text transform="translate(903.7,2172.3) rotate(-90)" font-size="41.6" text-anchor="middle" letter-spacing="0.000" fill="#000">Maximal lateral</text>
<text transform="translate(952.9,2176.8) rotate(-90)" font-size="41.6" text-anchor="middle" letter-spacing="0.000" fill="#000">distance at P7 (µm)</text>
<text x="1288.9" y="1981.0" font-size="50" text-anchor="start" fill="#000" font-weight="bold">p</text>
<path d="M1483.1,2013.6 L1483.1,2306.5 L1702.3,2306.5" fill="none" stroke="#000" stroke-width="3.3" stroke-linejoin="miter"/>
<line x1="1468.8" y1="2015.3" x2="1483.1" y2="2015.3" stroke="#000" stroke-width="3.3" />
<text x="1462.8" y="2026.7" font-size="32" text-anchor="end" fill="#000" >1,500</text>
<line x1="1468.8" y1="2112.6" x2="1483.1" y2="2112.6" stroke="#000" stroke-width="3.3" />
<text x="1462.8" y="2124.0" font-size="32" text-anchor="end" fill="#000" >1,000</text>
<line x1="1468.8" y1="2209.5" x2="1483.1" y2="2209.5" stroke="#000" stroke-width="3.3" />
<text x="1462.8" y="2220.9" font-size="32" text-anchor="end" fill="#000" >500</text>
<line x1="1468.8" y1="2306.5" x2="1483.1" y2="2306.5" stroke="#000" stroke-width="3.3" />
<text x="1462.8" y="2317.9" font-size="32" text-anchor="end" fill="#000" >0</text>
<line x1="1545.5" y1="2306.5" x2="1545.5" y2="2321.5" stroke="#000" stroke-width="3.3" />
<text x="1543.7" y="2354.4" font-size="32" text-anchor="middle" fill="#000" >WT</text>
<rect x="1515.9" y="2128.8" width="59.2" height="75.3" fill="none" stroke="#4a8fe6" stroke-width="2.8"/>
<line x1="1515.3" y1="2169.5" x2="1575.7" y2="2169.5" stroke="#4a8fe6" stroke-width="2.8" />
<line x1="1545.5" y1="2040.1" x2="1545.5" y2="2128.4" stroke="#4a8fe6" stroke-width="2.8" />
<line x1="1545.5" y1="2204.5" x2="1545.5" y2="2247.2" stroke="#4a8fe6" stroke-width="2.8" />
<line x1="1529.9" y1="2040.1" x2="1561.1" y2="2040.1" stroke="#4a8fe6" stroke-width="2.8" />
<line x1="1529.9" y1="2247.2" x2="1561.1" y2="2247.2" stroke="#4a8fe6" stroke-width="2.8" />
<line x1="1638.8" y1="2306.5" x2="1638.8" y2="2321.5" stroke="#000" stroke-width="3.3" />
<text x="1639.3" y="2354.4" font-size="32" text-anchor="middle" fill="#000" >cKO</text>
<rect x="1609.1" y="2145.8" width="59.3" height="44.0" fill="none" stroke="#f08e8e" stroke-width="2.8"/>
<line x1="1608.5" y1="2166.8" x2="1669.0" y2="2166.8" stroke="#f08e8e" stroke-width="2.8" />
<line x1="1638.8" y1="2057.5" x2="1638.8" y2="2145.4" stroke="#f08e8e" stroke-width="2.8" />
<line x1="1638.8" y1="2190.2" x2="1638.8" y2="2250.4" stroke="#f08e8e" stroke-width="2.8" />
<line x1="1623.2" y1="2057.5" x2="1654.3" y2="2057.5" stroke="#f08e8e" stroke-width="2.8" />
<line x1="1623.2" y1="2250.4" x2="1654.3" y2="2250.4" stroke="#f08e8e" stroke-width="2.8" />
<line x1="1543.5" y1="2018.8" x2="1638.8" y2="2018.8" stroke="#000" stroke-width="3.3" />
<text x="1590.2" y="2004.3" font-size="28.6" text-anchor="middle" fill="#000" ><tspan font-style="italic">P</tspan> = 0.5915</text>
<text transform="translate(1326.6,2166.1) rotate(-90)" font-size="41.6" text-anchor="middle" letter-spacing="0.000" fill="#000">Maximal radial</text>
<text transform="translate(1376.5,2158.6) rotate(-90)" font-size="41.6" text-anchor="middle" letter-spacing="0.000" fill="#000">distance at P7 (µm)</text>
</svg>
</body></html>
